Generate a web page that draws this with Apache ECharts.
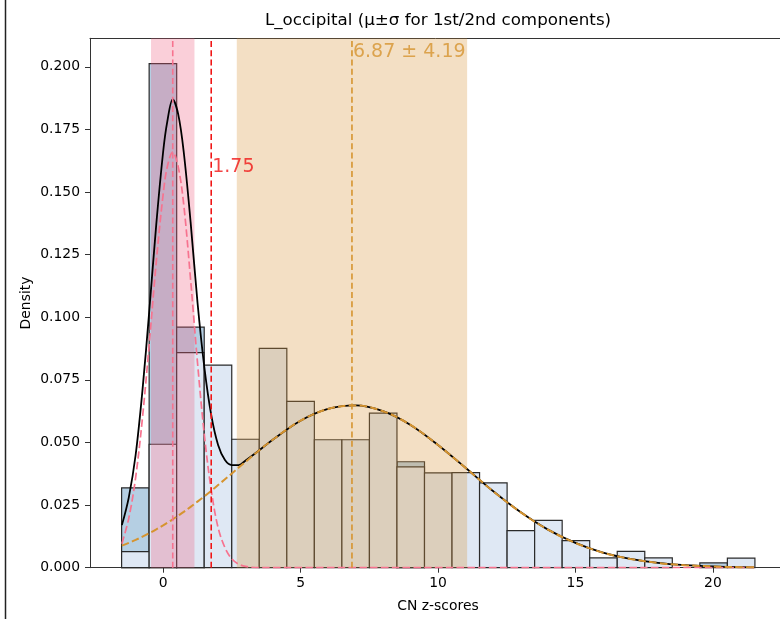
<!DOCTYPE html>
<html>
<head>
<meta charset="utf-8">
<title>L_occipital</title>
<script src="https://cdn.jsdelivr.net/npm/echarts@6/dist/echarts.min.js"></script>
<style>
  html, body { margin: 0; padding: 0; background: #fff; }
  #chart { width: 780px; height: 619px; }
</style>
</head>
<body>
<div id="chart"></div>
<script>
// histogram bins (density), 23 bins of ~1 unit starting at -1.51
var binStart = -1.51;
var binWidth = 1.0017;
var steelDensity = [0.0319, 0.2013, 0.0961, 0, 0, 0, 0, 0, 0, 0, 0.0423, 0, 0, 0, 0, 0, 0, 0, 0, 0, 0, 0.0019, 0];
var lightDensity = [0.0064, 0.0493, 0.0859, 0.0809, 0.0513, 0.0876, 0.0664, 0.0511, 0.0511, 0.0617, 0.0403, 0.0379, 0.0380, 0.0339, 0.0148, 0.0189, 0.0108, 0.0039, 0.0065, 0.0039, 0, 0, 0.0038];

// fitted curves
var curveX   = [-1.5, -1.25, -1, -0.75, -0.5, -0.25, 0, 0.15, 0.35, 0.55, 0.75, 1, 1.25, 1.5, 1.75, 2, 2.25, 2.5, 2.75, 3, 3.5, 4, 5, 6, 7, 8, 9, 10, 11, 12, 13, 14, 15, 16, 17, 18, 19, 20, 21, 21.5];
var mixtureY = [0.017, 0.028, 0.045, 0.071, 0.103, 0.137, 0.166, 0.178, 0.187, 0.181, 0.166, 0.138, 0.106, 0.080, 0.061, 0.049, 0.043, 0.041, 0.041, 0.0428, 0.0469, 0.0512, 0.0587, 0.0634, 0.0648, 0.0625, 0.057, 0.049, 0.0399, 0.0306, 0.0222, 0.0152, 0.0099, 0.006, 0.0035, 0.0019, 0.001, 0.0005, 0.0002, 0.00015];
var comp1Y   = [0.0096, 0.0197, 0.036, 0.060, 0.090, 0.122, 0.149, 0.160, 0.166, 0.160, 0.145, 0.115, 0.082, 0.053, 0.031, 0.016, 0.008, 0.0035, 0.0014, 0.0005, 0, 0, 0, 0, 0, 0, 0, 0, 0, 0, 0, 0, 0, 0, 0, 0, 0, 0, 0, 0];
var comp2Y   = [0.0088, 0.0099, 0.0111, 0.0124, 0.0138, 0.0153, 0.0169, 0.0179, 0.0193, 0.0208, 0.0223, 0.0243, 0.0264, 0.0285, 0.0307, 0.033, 0.0353, 0.0376, 0.040, 0.0423, 0.0469, 0.0512, 0.0587, 0.0634, 0.0648, 0.0625, 0.057, 0.049, 0.0399, 0.0306, 0.0222, 0.0152, 0.0099, 0.006, 0.0035, 0.0019, 0.001, 0.0005, 0.0002, 0.00015];

// annotations
var threshold = 1.75;
var comp1Mean = 0.35, comp1Sd = 0.79;
var comp2Mean = 6.87, comp2Sd = 4.19;

var xTicks = [0, 5, 10, 15, 20];
var yTicks = [0, 0.025, 0.05, 0.075, 0.1, 0.125, 0.15, 0.175, 0.2];

var xMin = -2.66, xMax = 22.66, yMax = 0.2114;
var FONT = 'DejaVu Sans';
var EDGE = '#2a2a2a';
var PINK = '#f7738f';
var ORANGE = '#d6942f';
var RED = '#f01515';

function binData(values) {
  return values.map(function (v, i) {
    return [binStart + i * binWidth, binStart + (i + 1) * binWidth, v];
  });
}

function renderBar(fill) {
  return function (params, api) {
    var h = api.value(2);
    if (!h) return null;
    var p0 = api.coord([api.value(0), 0]);
    var p1 = api.coord([api.value(1), h]);
    return {
      type: 'rect',
      shape: { x: p0[0], y: p1[1], width: p1[0] - p0[0], height: p0[1] - p1[1] },
      style: { fill: fill, stroke: EDGE, lineWidth: 1.2 }
    };
  };
}

function renderSpan(params, api) {
  var p0 = api.coord([api.value(0), 0]);
  var p1 = api.coord([api.value(1), yMax]);
  return {
    type: 'rect',
    shape: { x: p0[0], y: p1[1], width: p1[0] - p0[0], height: p0[1] - p1[1] },
    style: { fill: api.value(2) === 1 ? 'rgba(240,95,130,0.3)' : 'rgba(215,150,60,0.3)' }
  };
}

function curve(ys) {
  return curveX.map(function (x, i) { return [x, ys[i]]; });
}

function vline(x, color, z) {
  return {
    type: 'line', data: [[x, 0], [x, yMax]], symbol: 'none', z: z, silent: true,
    lineStyle: { color: color, width: 1.6, type: [6, 3.3] }
  };
}

var chart = echarts.init(document.getElementById('chart'));

var option = {
  animation: false,
  backgroundColor: '#fff',
  grid: { left: 90, top: 38.3, width: 696, height: 529.4, containLabel: false, outerBoundsMode: 'none' },
  xAxis: [{
    type: 'value', min: xMin, max: xMax,
    axisLine: { show: true, onZero: false, lineStyle: { color: '#333', width: 1 } },
    axisTick: { show: true, length: 5, lineStyle: { color: '#333' }, customValues: xTicks },
    axisLabel: { customValues: xTicks, margin: 9, color: '#000', fontFamily: FONT, fontSize: 13.9 },
    splitLine: { show: false }
  }, {
    type: 'value', min: xMin, max: xMax, position: 'top',
    axisLine: { show: true, onZero: false, lineStyle: { color: '#333', width: 1 } },
    axisTick: { show: false }, axisLabel: { show: false }, splitLine: { show: false }
  }],
  yAxis: {
    type: 'value', min: 0, max: yMax,
    axisLine: { show: true, onZero: false, lineStyle: { color: '#333', width: 1 } },
    axisTick: { show: true, length: 5, lineStyle: { color: '#333' }, customValues: yTicks },
    axisLabel: {
      customValues: yTicks, margin: 10, color: '#000', fontFamily: FONT, fontSize: 13.9,
      formatter: function (v) { return v.toFixed(3); }
    },
    splitLine: { show: false }
  },
  graphic: [
    { type: 'line', shape: { x1: 5.5, y1: 0, x2: 5.5, y2: 619 }, style: { stroke: '#222', lineWidth: 1.5 } },
    { type: 'text', x: 438, y: 21, style: { text: 'L_occipital (μ±σ for 1st/2nd components)', font: '16.7px "DejaVu Sans"', fill: '#000', textAlign: 'center', textVerticalAlign: 'middle' } },
    { type: 'text', x: 438, y: 606, style: { text: 'CN z-scores', font: '13.9px "DejaVu Sans"', fill: '#000', textAlign: 'center', textVerticalAlign: 'middle' } },
    { type: 'text', x: 26, y: 303, rotation: Math.PI / 2, style: { text: 'Density', font: '13.9px "DejaVu Sans"', fill: '#000', textAlign: 'center', textVerticalAlign: 'middle' } }
  ],
  series: [
    { type: 'custom', z: 2, renderItem: renderBar('#b5cfe3'), data: binData(steelDensity), encode: { x: [0, 1], y: 2 } },
    { type: 'custom', z: 2, renderItem: renderBar('#dfe8f4'), data: binData(lightDensity), encode: { x: [0, 1], y: 2 } },
    {
      type: 'custom', z: 3, renderItem: renderSpan, encode: { x: [0, 1] },
      data: [[comp1Mean - comp1Sd, comp1Mean + comp1Sd, 1], [comp2Mean - comp2Sd, comp2Mean + comp2Sd, 2]]
    },
    { type: 'line', z: 4, data: curve(mixtureY), symbol: 'none', smooth: 0.35, lineStyle: { color: '#000', width: 1.8 } },
    { type: 'line', z: 5, data: curve(comp1Y), symbol: 'none', smooth: 0.35, lineStyle: { color: PINK, width: 1.7, type: [7.5, 3.3] } },
    { type: 'line', z: 6, data: curve(comp2Y), symbol: 'none', smooth: 0.35, lineStyle: { color: ORANGE, width: 2, type: [7.5, 3.3] } },
    vline(comp1Mean, PINK, 7),
    vline(threshold, RED, 7),
    vline(comp2Mean, ORANGE, 7),
    {
      type: 'scatter', z: 8, symbolSize: 0, silent: true,
      data: [[threshold, 0.1598]],
      label: { show: true, position: 'right', distance: 1, formatter: threshold.toFixed(2), color: RED, fontFamily: FONT, fontSize: 19 }
    },
    {
      type: 'scatter', z: 8, symbolSize: 0, silent: true,
      data: [[comp2Mean, 0.2059]],
      label: { show: true, position: 'right', distance: 1, formatter: comp2Mean.toFixed(2) + ' ± ' + comp2Sd.toFixed(2), color: ORANGE, fontFamily: FONT, fontSize: 19 }
    }
  ]
};

chart.setOption(option);
</script>
</body>
</html>
